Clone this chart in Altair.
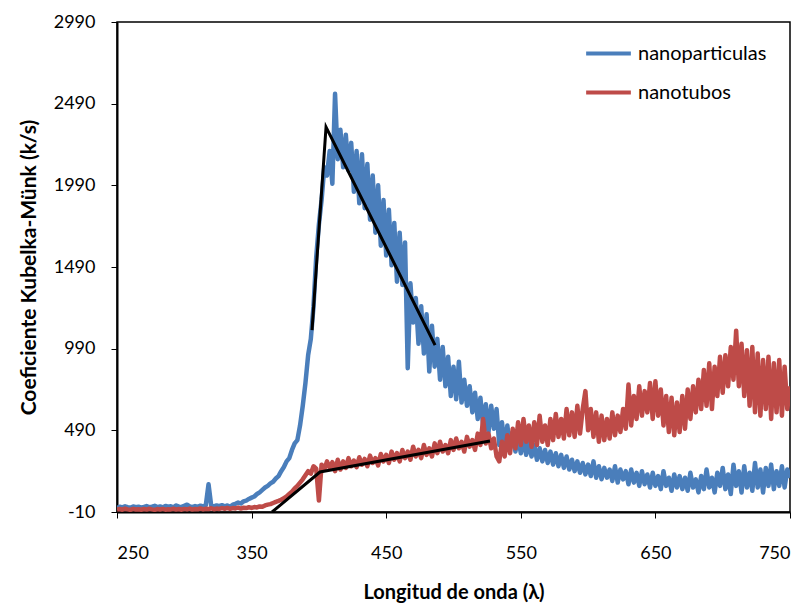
import altair as alt
import pandas as pd

wavelength = list(range(250, 751, 2))

nanoparticulas = [
    15, 22, 18, 25, 20, 16, 24, 19, 22, 17,
    21, 26, 19, 23, 28, 20, 24, 18, 27, 22,
    25, 19, 30, 23, 21, 28, 35, 24, 20, 26,
    22, 29, 24, 32, 160, 28, 24, 30, 26, 32,
    25, 30, 22, 35, 40, 48, 42, 55, 60, 70,
    78, 85, 100, 110, 125, 140, 150, 165, 175, 195,
    210, 240, 265, 300, 320, 370, 410, 430, 520, 640,
    780, 950, 1050, 1250, 1550, 1750, 1900, 2100, 2050, 2200,
    2000, 2550, 2150, 2330, 2100, 2300, 2080, 2250, 1950, 2200,
    1880, 2180, 1850, 2120, 1780, 2050, 1700, 1990, 1620, 1900,
    1560, 1840, 1500, 1760, 1400, 1700, 1380, 1640, 870, 1390,
    1150, 1300, 1020, 1250, 960, 1200, 850, 1130, 880, 1050,
    800, 1000, 760, 940, 700, 880, 680, 910, 660, 800,
    640, 760, 600, 720, 560, 690, 520, 650, 480, 640,
    500, 620, 400, 540, 390, 520, 380, 480, 360, 450,
    350, 430, 340, 410, 330, 400, 310, 380, 300, 370,
    290, 360, 280, 350, 270, 340, 260, 330, 250, 310,
    240, 300, 230, 290, 220, 280, 210, 300, 200, 270,
    190, 260, 200, 250, 180, 270, 170, 250, 190, 240,
    160, 250, 170, 230, 150, 240, 160, 220, 140, 230,
    150, 210, 130, 240, 150, 200, 120, 220, 140, 210,
    130, 200, 120, 230, 140, 190, 110, 210, 130, 250,
    140, 200, 110, 230, 150, 260, 130, 220, 100, 280,
    150, 240, 110, 270, 140, 230, 120, 290, 140, 250,
    110, 260, 150, 280, 130, 240, 150, 270, 140, 250,
    200,
]

nanotubos = [
    5, 8, 4, 10, 6, 3, 9, 5, 7, 4,
    8, 5, 10, 6, 3, 8, 5, 9, 4, 7,
    6, 10, 5, 8, 4, 9, 6, 11, 5, 8,
    7, 12, 6, 10, 8, 13, 7, 11, 9, 14,
    10, 15, 9, 14, 12, 17, 11, 16, 14, 19,
    15, 20, 18, 24, 22, 30, 35, 38, 45, 52,
    58, 65, 75, 85, 100, 115, 135, 150, 170, 190,
    215, 240, 225, 270, 255, 60, 280, 250, 300, 260,
    295, 240, 310, 250, 300, 260, 320, 270, 305, 265,
    325, 280, 315, 270, 335, 290, 320, 275, 345, 300,
    340, 290, 360, 310, 350, 300, 370, 320, 360, 310,
    390, 330, 370, 320, 400, 340, 380, 330, 410, 350,
    420, 360, 400, 350, 430, 370, 440, 380, 420, 360,
    450, 390, 430, 370, 470, 400, 560, 410, 470, 380,
    440, 330, 300, 420, 330, 460, 350, 500, 380, 540,
    400, 560, 420, 520, 390, 540, 400, 580, 420, 520,
    400, 560, 430, 590, 450, 560, 440, 620, 460, 600,
    450, 640, 470, 620, 730, 490, 620, 450, 600, 420,
    580, 430, 560, 440, 600, 460, 580, 480, 620, 500,
    770, 520, 700, 560, 760, 580, 730, 600, 780, 560,
    790, 580, 740, 520, 700, 480, 690, 460, 660, 480,
    700, 500, 740, 560, 760, 600, 800, 620, 860, 640,
    900, 620, 880, 700, 940, 720, 950, 760, 1000, 800,
    1100, 760, 1020, 700, 980, 640, 1000, 600, 960, 580,
    920, 620, 940, 560, 900, 600, 920, 580, 880, 620,
    760,
]

fit_particulas_x = [394.9, 405.3, 486.3]
fit_particulas_y = [1104, 2347, 1012]
fit_tubos_x = [365.2, 400.8, 527.1]
fit_tubos_y = [-10, 235, 425]

x_ticks = [250, 350, 450, 550, 650, 750]
y_ticks = [-10, 490, 990, 1490, 1990, 2490, 2990]

assert len(nanoparticulas) == len(wavelength) == len(nanotubos)

series_names = ["nanoparticulas", "nanotubos"]
colors = ["#4A7EBB", "#BE4B48"]

df = pd.concat([
    pd.DataFrame({"x": wavelength, "y": nanoparticulas, "serie": "nanoparticulas"}),
    pd.DataFrame({"x": wavelength, "y": nanotubos, "serie": "nanotubos"}),
])

fits = pd.concat([
    pd.DataFrame({"x": fit_particulas_x, "y": fit_particulas_y, "fit": "a"}),
    pd.DataFrame({"x": fit_tubos_x, "y": fit_tubos_y, "fit": "b"}),
])

font = "Lato"

xscale = alt.Scale(domain=[250, 750], nice=False, zero=False)
yscale = alt.Scale(domain=[-10, 2990], nice=False, zero=False)

xaxis = alt.Axis(values=x_ticks, title="Longitud de onda (λ)", grid=False,
                 labelExpr="'' + datum.value",
                 labelFontSize=18, titleFontSize=20, titleFontWeight="bold",
                 labelPadding=26, titlePadding=20, tickSize=6, tickColor="black",
                 domainColor="black", domainWidth=2, labelColor="black",
                 titleColor="black", labelFont=font, titleFont=font)
yaxis = alt.Axis(values=y_ticks, title="Coeficiente Kubelka-Münk  (k/s)", grid=False,
                 labelExpr="'' + datum.value",
                 labelFontSize=18, titleFontSize=21, titleFontWeight="bold",
                 labelPadding=16, titlePadding=14, tickSize=6, tickColor="black",
                 domainColor="black", domainWidth=2, labelColor="black",
                 titleColor="black", labelFont=font, titleFont=font)

lines = alt.Chart(df).mark_line(strokeWidth=4.5, clip=True, strokeJoin="round").encode(
    x=alt.X("x:Q", scale=xscale, axis=xaxis),
    y=alt.Y("y:Q", scale=yscale, axis=yaxis),
    color=alt.Color("serie:N", scale=alt.Scale(domain=series_names, range=colors),
                    legend=alt.Legend(title=None, orient="none", legendX=467, legendY=7,
                                      symbolType="stroke", symbolSize=2000,
                                      symbolStrokeWidth=4, labelFontSize=20,
                                      labelFont=font, labelColor="black",
                                      rowPadding=4, labelOffset=5)),
    order=alt.Order("x:Q"),
)

fit_lines = alt.Chart(fits).mark_line(color="black", strokeWidth=3, clip=True).encode(
    x=alt.X("x:Q", scale=xscale),
    y=alt.Y("y:Q", scale=yscale),
    detail="fit:N",
)

chart = alt.layer(lines, fit_lines).properties(
    width=673, height=490,
    autosize=alt.AutoSizeParams(type="none"),
    padding={"left": 117, "top": 22, "right": 20, "bottom": 91},
).configure_view(stroke="black", strokeWidth=1.5)

chart.save("out.html", embed_options={"renderer": "svg", "actions": False})
